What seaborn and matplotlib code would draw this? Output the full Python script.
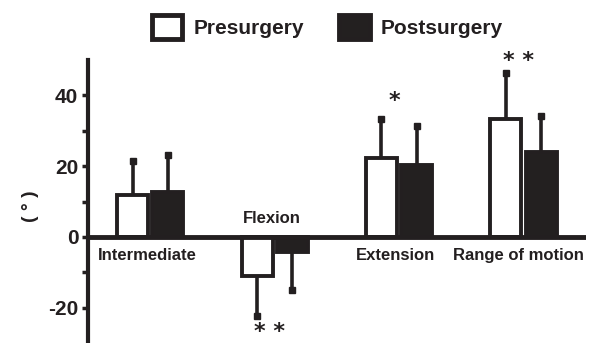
import numpy as np
import pandas as pd
import matplotlib
matplotlib.use("Agg")
import matplotlib.pyplot as plt
import seaborn as sns

# datos
categorias = ["Intermediate", "Flexion", "Extension", "Range of motion"]
grupos = ["Presurgery", "Postsurgery"]
media_pre = [11.8, -11.0, 22.3, 33.2]
media_post = [12.7, -4.2, 20.3, 24.0]
sd_pre = [9.6, 11.3, 10.9, 13.0]
sd_post = [10.4, 10.7, 11.0, 10.1]
marcas = {"Flexion": "* *", "Extension": "*", "Range of motion": "* *"}

negro = "#231f20"

df = pd.DataFrame({
    "categoria": categorias * 2,
    "grupo": [grupos[0]] * 4 + [grupos[1]] * 4,
    "valor": media_pre + media_post,
})

sns.set_style("white")
plt.rcParams["font.family"] = ["Liberation Sans", "DejaVu Sans"]
plt.rcParams["font.weight"] = "bold"
plt.rcParams["axes.unicode_minus"] = False

fig = plt.figure(figsize=(5.89, 3.43), dpi=100)
ax = fig.add_axes([0.1494, 0.0, 0.845, 0.825])

sns.barplot(data=df, x="categoria", y="valor", hue="grupo", order=categorias,
            hue_order=grupos, palette={"Presurgery": "white", "Postsurgery": negro},
            edgecolor=negro, linewidth=2.8, width=0.565, gap=0.12,
            errorbar=None, ax=ax, zorder=2)

# barras de error de un solo lado (solo la punta lleva tope)
for cont, sds in zip(ax.containers, [sd_pre, sd_post]):
    for bar, sd in zip(cont, sds):
        x = bar.get_x() + bar.get_width() / 2
        h = bar.get_height()
        fin = h + sd if h >= 0 else h - sd
        ax.plot([x, x], [h, fin], color=negro, lw=2.6, zorder=1,
                solid_capstyle="butt")
        ax.plot(x, fin, marker="s", ms=4.2, color=negro, zorder=1)

ax.axhline(0, color=negro, lw=3.5, zorder=3)
ax.set_xlim(-0.5, 3.5)
ax.set_ylim(-30, 50)
ax.set_xticks([])
ax.set_yticks([-20, 0, 20, 40])
ax.set_yticks([-10, 10, 30], minor=True)
ax.tick_params(axis="y", which="both", direction="out", length=4, width=2.5,
               color=negro, labelsize=15, labelcolor=negro, pad=3, left=True)
for lab in ax.get_yticklabels():
    lab.set_fontweight("bold")
for s in ["top", "right", "bottom"]:
    ax.spines[s].set_visible(False)
ax.spines["left"].set_linewidth(3)
ax.spines["left"].set_color(negro)
ax.set_xlabel("")
ax.set_ylabel("")
fig.text(0.052, 0.40, "( ° )", rotation=90, fontsize=14, fontweight="bold",
         color=negro, ha="center", va="center")

# etiquetas de categoria
desplaza = {"Intermediate": -0.02, "Flexion": -0.02, "Extension": -0.03,
            "Range of motion": -0.04}
for i, c in enumerate(categorias):
    y = 5.1 if c == "Flexion" else -5.4
    ax.text(i + desplaza[c], y, c, ha="center", va="center", fontsize=12,
            fontweight="bold", color=negro, clip_on=False)

# asteriscos
pos_y = {"Flexion": -27.0, "Extension": 38.3, "Range of motion": 49.6}
for c, m in marcas.items():
    i = categorias.index(c)
    ax.text(i - 0.04, pos_y[c], m, ha="center", va="center", fontsize=16,
            fontweight="bold", color=negro, clip_on=False,
            family="DejaVu Sans")

sns.move_legend(ax, "center", bbox_to_anchor=(0.556, 0.921),
                bbox_transform=fig.transFigure, ncol=2, frameon=False,
                title=None, fontsize=15, handlelength=1.45, handleheight=1.45,
                handletextpad=0.55, columnspacing=1.7)
for t in ax.get_legend().get_texts():
    t.set_fontweight("bold")
    t.set_color(negro)
for p in ax.get_legend().get_patches():
    p.set_linewidth(3.5)
    p.set_edgecolor(negro)

fig.savefig("out.png", dpi=100)
